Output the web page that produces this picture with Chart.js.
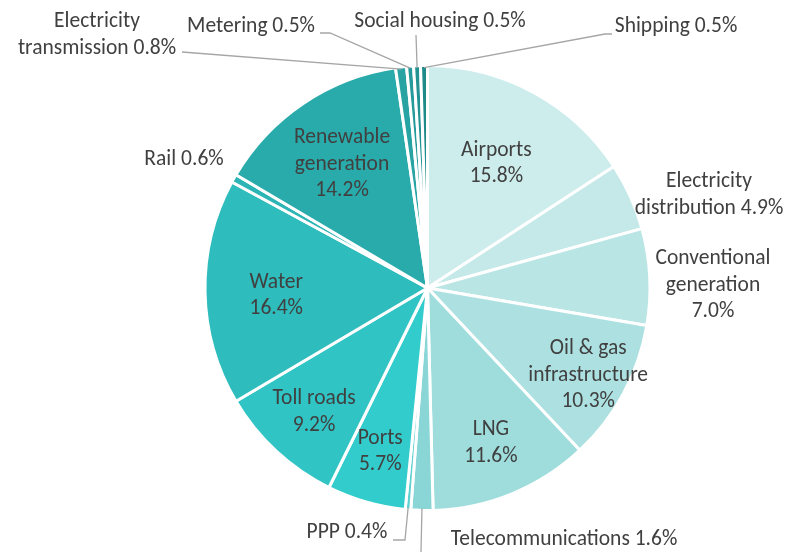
<!DOCTYPE html>
<html><head><meta charset="utf-8">
<script src="https://cdn.jsdelivr.net/npm/chart.js@4"></script>
<style>html,body{margin:0;padding:0;background:#fff}#wrap{width:789px;height:552px}</style>
</head><body><div id="wrap"><canvas id="c" width="789" height="552"></canvas></div>
<script>
// ---- data ----
const categories = [
  'Airports', ['Electricity','distribution'], ['Conventional','generation'], ['Oil & gas','infrastructure'],
  'LNG', 'Telecommunications', 'PPP', 'Ports', 'Toll roads', 'Water', 'Rail',
  ['Renewable','generation'], ['Electricity','transmission'], 'Metering', 'Social housing', 'Shipping'
];
const shares = [15.8, 4.9, 7.0, 10.3, 11.6, 1.6, 0.4, 5.7, 9.2, 16.4, 0.6, 14.2, 0.8, 0.5, 0.5, 0.5];

// ---- styles ----
const colors = ['#cdecec','#c5e9e9','#b9e5e5','#ade1e1','#9fdddd','#8ad6d6','#5fd0d0','#33cccc',
  '#31c4c4','#2fbcbc','#2db5b5','#2aabab','#27a3a3','#249a9a','#229292','#1f8a8a'];
// label placement: 'in' = inside at fraction of radius along mid-angle; 'out' = text anchor + optional leader
const labelLayout = [
  {mode:'in', f:0.65, dy:3},
  {mode:'out', x:709, y:182, inline:true},
  {mode:'out', x:713, y:259},
  {mode:'in', f:0.82, dy:1},
  {mode:'in', f:0.75, dy:1},
  {mode:'out', x:564, y:540, leader:[[421,552]]},
  {mode:'out', x:347, y:533, leader:[[405,540],[393,540]]},
  {mode:'in', f:0.77, dy:-1},
  {mode:'in', f:0.75, dy:2},
  {mode:'in', f:0.68, dy:5},
  {mode:'out', x:184, y:160},
  {mode:'in', f:0.69, dy:4},
  {mode:'out', x:97, y:22, inline:true, leader:[[182,52]]},
  {mode:'out', x:251, y:27, leader:[[330,33],[320,33]]},
  {mode:'out', x:440, y:22, leader:[[416,35]]},
  {mode:'out', x:676, y:27, leader:[[605,34],[612,34]]}
];
const FONT = '21.5px Carlito, Lato, "Open Sans", sans-serif';
const LINE_H = 26.5;

function labelLines(i){
  const cat = categories[i];
  const val = shares[i].toFixed(1) + '%';
  const parts = Array.isArray(cat) ? cat.slice() : [cat];
  const L = labelLayout[i];
  if (L.mode === 'in' || (!L.inline && parts.length > 1)) parts.push(val);
  else parts[parts.length-1] = parts[parts.length-1] + ' ' + val;
  return parts;
}

const labelPlugin = {
  id: 'pieLabels',
  afterDatasetsDraw(chart){
    const ctx = chart.ctx;
    const arcs = chart.getDatasetMeta(0).data;
    ctx.save();
    ctx.font = FONT;
    ctx.textAlign = 'center';
    ctx.textBaseline = 'middle';
    arcs.forEach((arc, i) => {
      const L = labelLayout[i];
      const mid = (arc.startAngle + arc.endAngle) / 2;
      const r = arc.outerRadius;
      const lines = labelLines(i);
      if (L.leader){
        ctx.strokeStyle = '#a6a6a6';
        ctx.lineWidth = 1.3;
        ctx.beginPath();
        ctx.moveTo(arc.x + Math.cos(mid)*(r-2), arc.y + Math.sin(mid)*(r-2));
        L.leader.forEach(p => ctx.lineTo(p[0], p[1]));
        ctx.stroke();
      }
      ctx.fillStyle = '#404040';
      let cx, cy;
      if (L.mode === 'in'){
        cx = arc.x + Math.cos(mid)*r*L.f;
        cy = arc.y + Math.sin(mid)*r*L.f - (lines.length-1)*LINE_H/2 + (L.dy || 0);
      } else { cx = L.x; cy = L.y; }
      lines.forEach((t, k) => ctx.fillText(t, cx, cy + k*LINE_H));
    });
    ctx.restore();
  }
};

new Chart(document.getElementById('c'), {
  type: 'pie',
  data: {
    labels: categories.map(c => Array.isArray(c) ? c.join(' ') : c),
    datasets: [{ data: shares, backgroundColor: colors, borderColor: '#ffffff', borderWidth: 3 }]
  },
  options: {
    responsive: false,
    animation: false,
    layout: { padding: { left: 203, right: 137, top: 64, bottom: 40 } },
    plugins: { legend: { display: false }, tooltip: { enabled: false } }
  },
  plugins: [labelPlugin]
});
</script>
</body></html>
